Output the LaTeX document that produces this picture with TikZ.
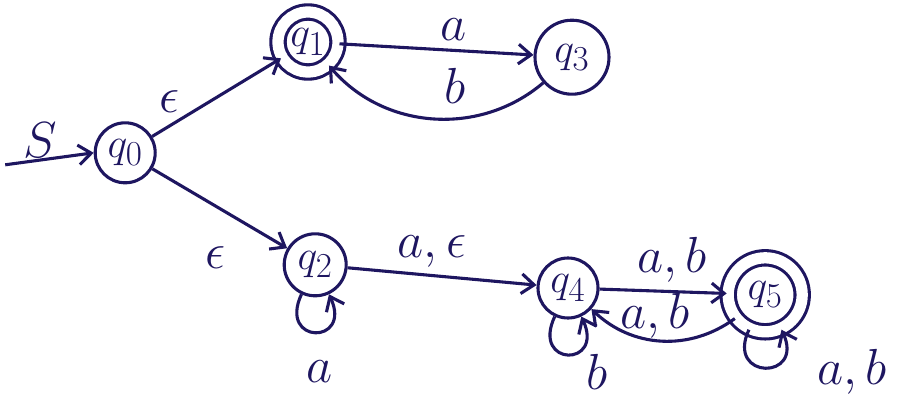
\documentclass[tikz,border=0pt]{standalone}
\usepackage{graphicx}
\usepackage{tikz}
\usetikzlibrary{arrows.meta}
\definecolor{NFAInk}{HTML}{1E1660}
\newcommand{\stq}[1]{\scalebox{1.2}{$q_{#1}$}}

\begin{document}
\begin{tikzpicture}[x=1cm,y=1cm,
  state/.style={circle,draw=NFAInk,line width=2.2pt,minimum size=1.5cm,inner sep=0pt,text=NFAInk,font=\Huge},
  accept/.style={state,double=white,double distance=8pt},
  trans/.style={draw=NFAInk,line width=2.2pt,-{Straight Barb[length=9pt,width=14pt]}},
  lbl/.style={text=NFAInk,font=\Huge,scale=1.45,inner sep=1pt}]
\path[use as bounding box] (0,0) rectangle (22.45,9.95);
% states
\node[state] (q0) at (3.13,6.13) {\stq{0}};
\node[accept,minimum size=1.5cm] (q1) at (7.70,8.90) {\stq{1}};
\node[state,minimum size=1.85cm] (q3) at (14.30,8.52) {\stq{3}};
\node[state,minimum size=1.55cm] (q2) at (7.88,3.33) {\stq{2}};
\node[state] (q4) at (14.20,2.75) {\stq{4}};
\node[accept,minimum size=1.85cm] (q5) at (19.13,2.58) {\stq{5}};
\coordinate (start) at (0.13,5.83);
% transitions
\draw[trans] (start) -- (q0.west);
\node[lbl] (lS) at (1.00,6.45) {$S$};
\draw[trans] (q0) -- (q1);
\node[lbl] (le1) at (4.25,7.40) {$\epsilon$};
\draw[trans] (q0) -- (q2);
\node[lbl] (le2) at (5.38,3.50) {$\epsilon$};
\draw[trans] (q1) -- (q3);
\node[lbl] (la13) at (11.33,9.20) {$a$};
\draw[trans] (q3) to[bend left=45] (q1);
\node[lbl] (lb31) at (11.38,7.80) {$b$};
\draw[trans] (q2) -- (q4);
\node[lbl] (la24) at (10.80,3.65) {$a,\epsilon$};
\draw[trans] (q2) to[out=-115,in=-65,distance=1.4cm] (q2);
\node[lbl] (la22) at (8.00,0.65) {$a$};
\draw[trans] (q4) -- (q5);
\node[lbl] (lab45) at (16.80,3.45) {$a,b$};
\draw[trans] (q5) to[bend left=40] (q4);
\node[lbl] (lab54) at (16.38,2.05) {$a,b$};
\draw[trans] (q4) to[out=-115,in=-65,distance=1.4cm] (q4);
\node[lbl] (lb44) at (14.93,0.65) {$b$};
\draw[trans] (q5) to[out=-115,in=-65,distance=1.4cm] (q5);
\node[lbl] (lab55) at (21.30,0.65) {$a,b$};
\end{tikzpicture}
\end{document}
